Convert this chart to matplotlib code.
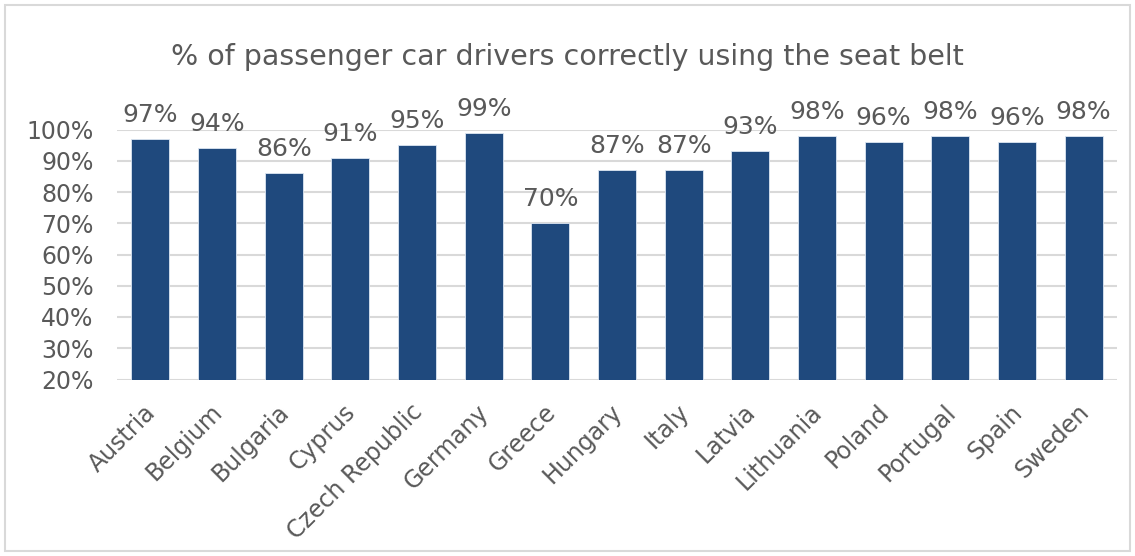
import matplotlib.pyplot as plt
import matplotlib.transforms as mtransforms
from matplotlib.patches import Rectangle

countries = ["Austria", "Belgium", "Bulgaria", "Cyprus", "Czech Republic", "Germany",
             "Greece", "Hungary", "Italy", "Latvia", "Lithuania", "Poland",
             "Portugal", "Spain", "Sweden"]
values = [97, 94, 86, 91, 95, 99, 70, 87, 87, 93, 98, 96, 98, 96, 98]
yticks = [20, 30, 40, 50, 60, 70, 80, 90, 100]

txt = '#595959'
bar_col = '#1F497D'

fig = plt.figure(figsize=(11.35, 5.56), dpi=100)
fig.patches.append(Rectangle((5 / 1135, 5 / 556), 1125 / 1135, 546 / 556,
                             transform=fig.transFigure, fill=False,
                             edgecolor='#D9D9D9', linewidth=1.5))

# plot area in pixels: x 117..1117, y 129.5..379.5 (from top)
ax = fig.add_axes([117 / 1135, (556 - 379.5) / 556, 1000 / 1135, 250 / 556])

x = range(len(countries))
ax.bar(x, values, width=0.57, color=bar_col, edgecolor='#DCE6F2', linewidth=0.6, zorder=3)
for i, v in enumerate(values):
    ax.annotate(f"{v}%", (i, v), xytext=(0, 12), textcoords='offset pixels',
                ha='center', va='bottom', fontsize=18, color=txt)

ax.set_xlim(-0.5, len(countries) - 0.5)
ax.set_ylim(20, 100)
ax.set_yticks(yticks)
ax.set_yticklabels([f"{t}%" for t in yticks], fontsize=17, color=txt)
ax.set_xticks(list(x))
ax.set_xticklabels(countries, rotation=45, ha='right', rotation_mode='anchor',
                   fontsize=17, color=txt)
ax.tick_params(axis='y', length=0, pad=17)
ax.tick_params(axis='x', length=0, pad=14)
shift = mtransforms.ScaledTranslation(-7 / 100, -1 / 100, fig.dpi_scale_trans)
for lab in ax.get_xticklabels():
    lab.set_transform(lab.get_transform() + shift)
ax.grid(axis='y', color='#D9D9D9', linewidth=1.5, zorder=0)
for s in ax.spines.values():
    s.set_visible(False)

fig.text(0.5, 1 - 57 / 556, "% of passenger car drivers correctly using the seat belt",
         ha='center', va='center', fontsize=20.5, color=txt)

fig.savefig("out.png", dpi=100)
